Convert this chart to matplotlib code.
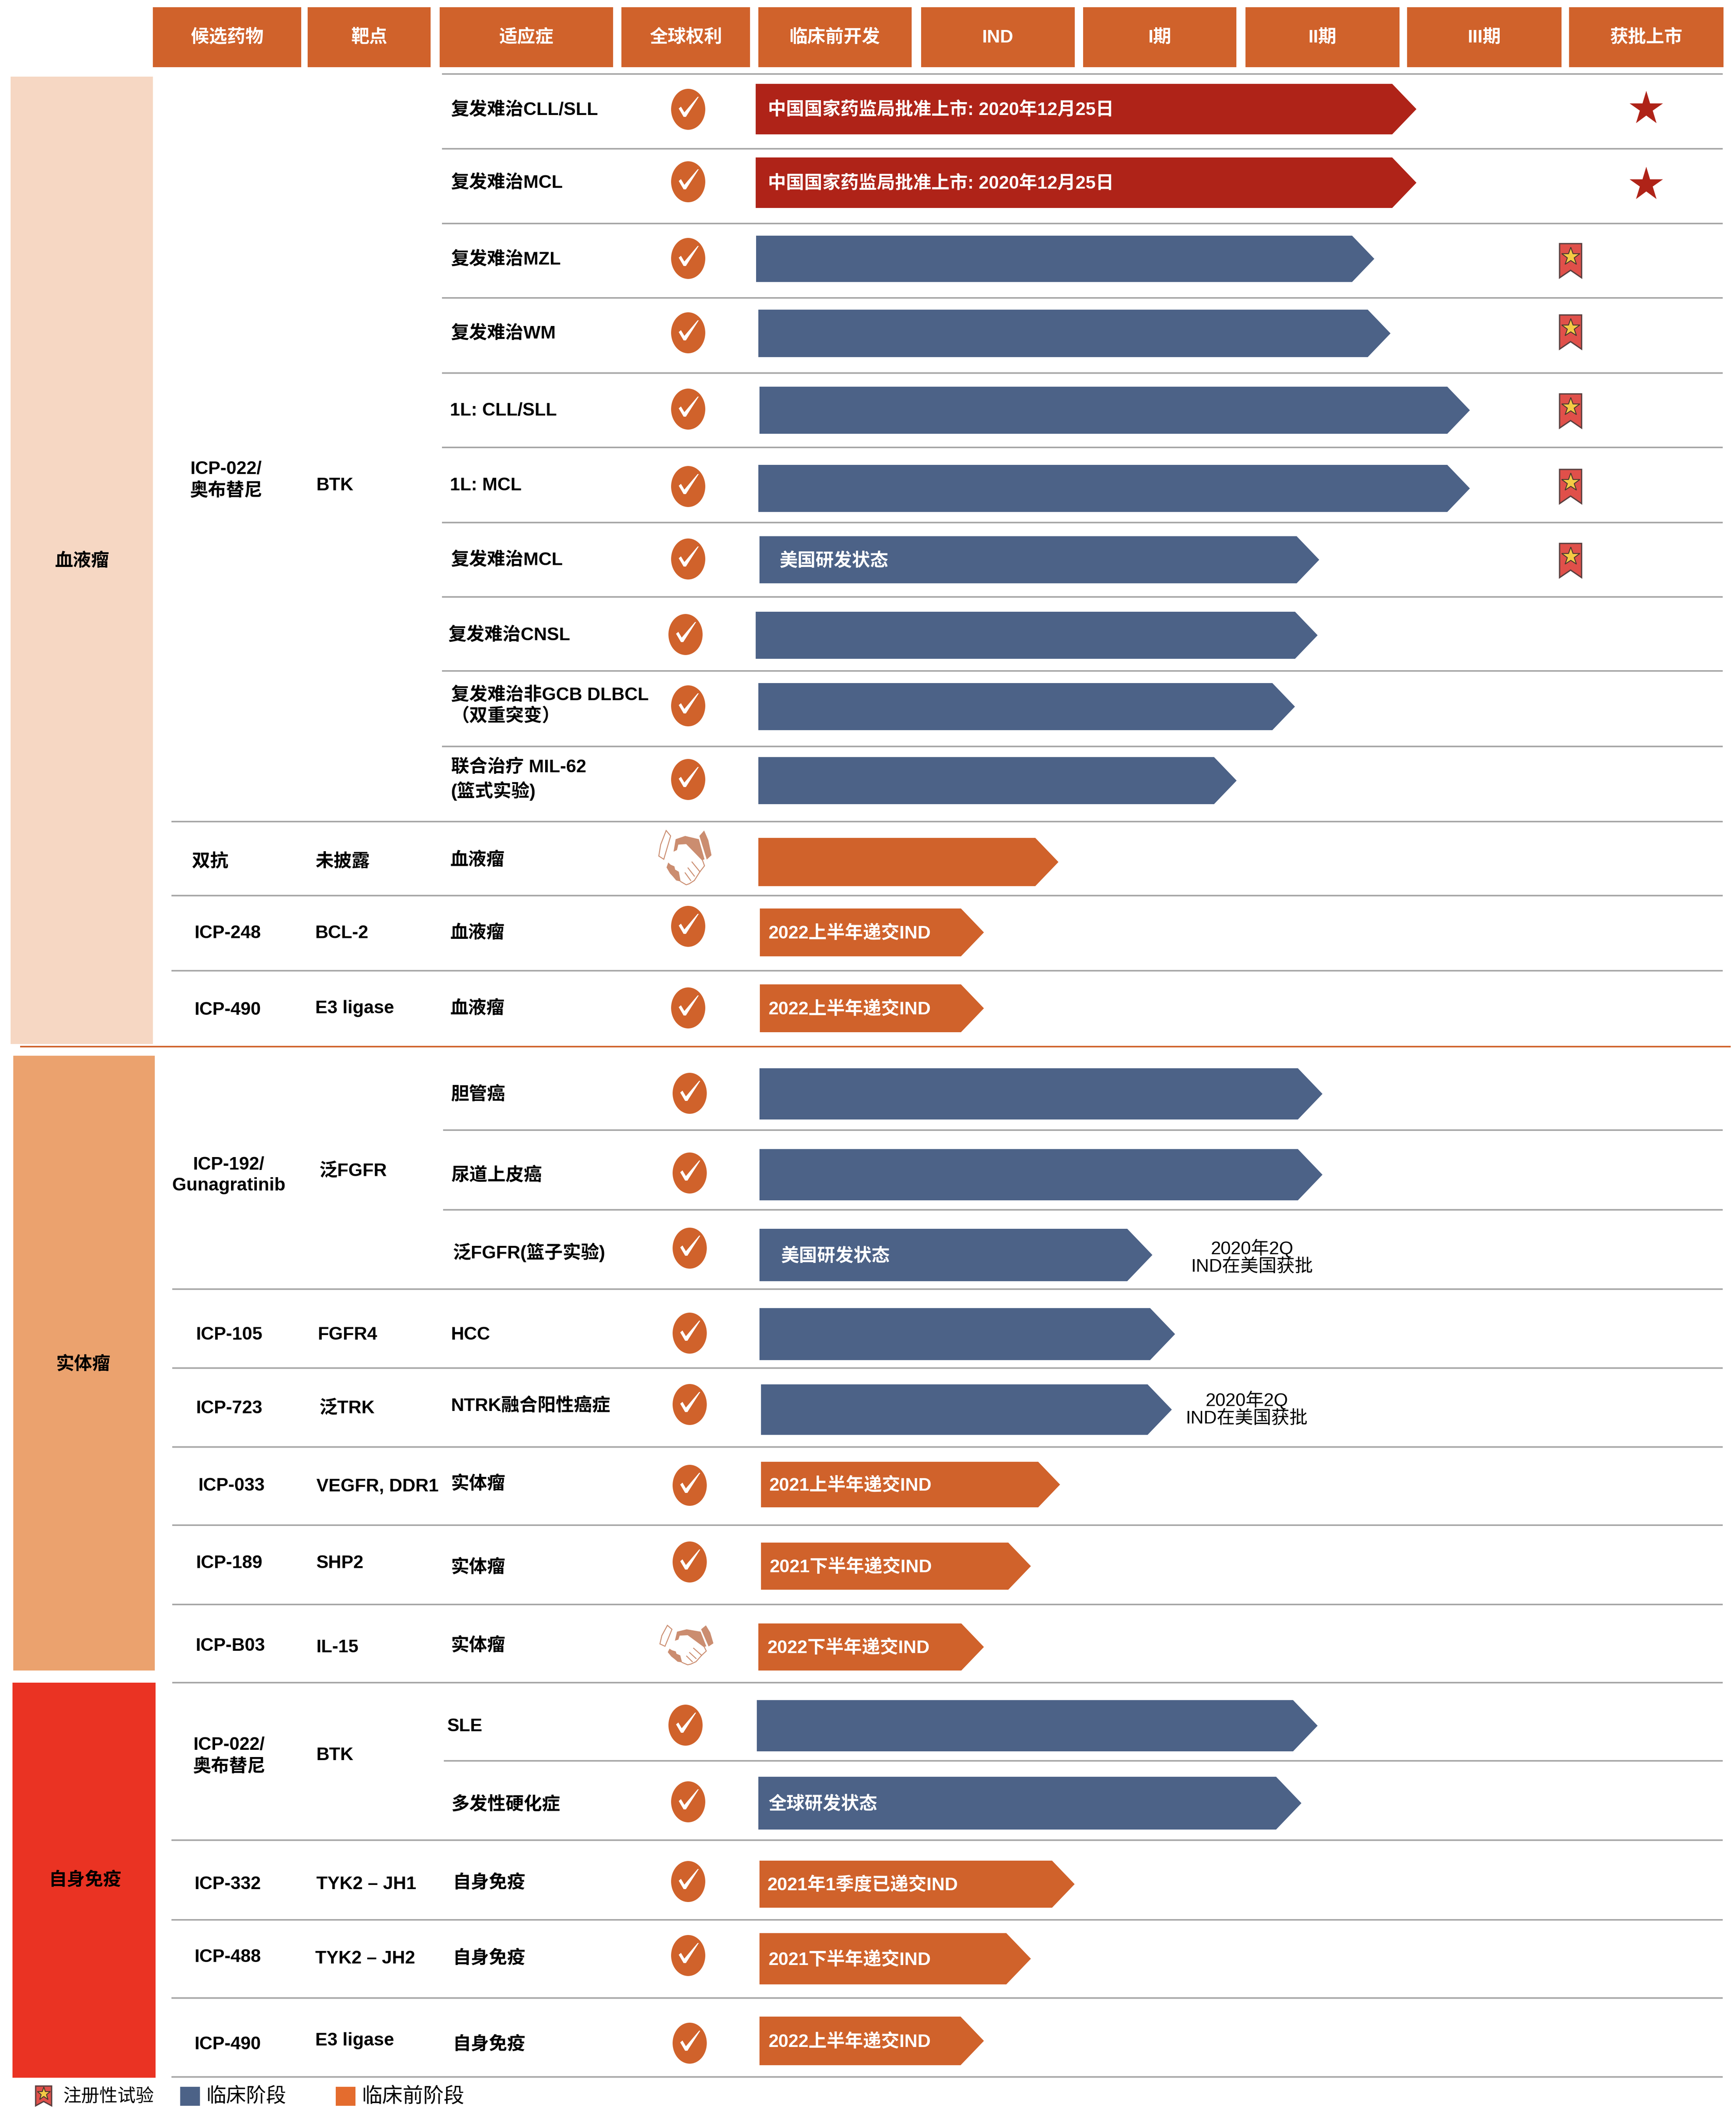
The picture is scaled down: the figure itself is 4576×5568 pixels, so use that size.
import matplotlib
matplotlib.use("Agg")
import matplotlib.pyplot as plt
from matplotlib.patches import Ellipse, Polygon, Rectangle

FONT = ['Liberation Sans', 'Noto Sans CJK SC']
plt.rcParams['font.family'] = FONT

# column headers
headers = ['候选药物', '靶点', '适应症', '全球权利', '临床前开发', 'IND', 'I期', 'II期', 'III期', '获批上市']

# therapeutic areas
areas = ['血液瘤', '实体瘤', '自身免疫']

# drug and target columns
drugs = ['ICP-022/\n奥布替尼', '双抗', 'ICP-248', 'ICP-490', 'ICP-192/\nGunagratinib', 'ICP-105', 'ICP-723',
         'ICP-033', 'ICP-189', 'ICP-B03', 'ICP-022/\n奥布替尼', 'ICP-332', 'ICP-488', 'ICP-490']
targets = ['BTK', '未披露', 'BCL-2', 'E3 ligase', '泛FGFR', 'FGFR4', '泛TRK',
           'VEGFR, DDR1', 'SHP2', 'IL-15', 'BTK', 'TYK2 – JH1', 'TYK2 – JH2', 'E3 ligase']

# one entry per pipeline row
indications = ['复发难治CLL/SLL', '复发难治MCL', '复发难治MZL', '复发难治WM', '1L: CLL/SLL', '1L: MCL', '复发难治MCL',
               '复发难治CNSL', '复发难治非GCB DLBCL\n（双重突变）', '联合治疗 MIL-62\n(篮式实验)', '血液瘤', '血液瘤', '血液瘤',
               '胆管癌', '尿道上皮癌', '泛FGFR(篮子实验)', 'HCC', 'NTRK融合阳性癌症', '实体瘤', '实体瘤', '实体瘤',
               'SLE', '多发性硬化症', '自身免疫', '自身免疫', '自身免疫']
# how far each row got, in stages (0 = start of preclinical, 1 = start of IND, ...)
progress = [4.06, 4.06, 3.80, 3.90, 4.39, 4.39, 3.46, 3.45, 3.31, 2.95, 1.85, 1.39, 1.39,
            3.48, 3.48, 2.43, 2.57, 2.55, 1.86, 1.68, 1.39,
            3.45, 3.35, 1.95, 1.68, 1.39]
phase = ['approved', 'approved', 'clinical', 'clinical', 'clinical', 'clinical', 'clinical', 'clinical', 'clinical',
         'clinical', 'preclinical', 'preclinical', 'preclinical',
         'clinical', 'clinical', 'clinical', 'clinical', 'clinical', 'preclinical', 'preclinical', 'preclinical',
         'clinical', 'clinical', 'preclinical', 'preclinical', 'preclinical']
bar_notes = ['中国国家药监局批准上市: 2020年12月25日', '中国国家药监局批准上市: 2020年12月25日', '', '', '', '', '美国研发状态',
             '', '', '', '', '2022上半年递交IND', '2022上半年递交IND',
             '', '', '美国研发状态', '', '', '2021上半年递交IND', '2021下半年递交IND', '2022下半年递交IND',
             '', '全球研发状态', '2021年1季度已递交IND', '2021下半年递交IND', '2022上半年递交IND']
side_notes = ['2020年2Q\nIND在美国获批', '2020年2Q\nIND在美国获批']
legend_labels = ['注册性试验', '临床阶段', '临床前阶段']

# rows with a partnership instead of full rights
partner_rows = [10, 20]
# rows with a marketed star / a registrational flag
star_rows = [0, 1]
flag_rows = [2, 3, 4, 5, 6]

# ---- layout, in pixels of the 4576x5568 picture ----
W, H = 4576, 5568
STAGE_X0, STAGE_W = 2000, 427
header_x = [(403, 794), (811, 1135), (1159, 1616), (1638, 1977), (1999, 2403), (2428, 2833), (2855, 3259),
            (3283, 3689), (3709, 4116), (4136, 4543)]
row_bar_x = [1992, 1992, 1993, 1999, 2002, 1999, 2002, 1992, 1999, 1999, 1999, 2003, 2003,
             2002, 2002, 2002, 2002, 2006, 2006, 2006, 1999, 1995, 1999, 2002, 2002, 2002]
row_bar_top = [221, 415, 621, 816, 1019, 1225, 1413, 1612, 1800, 1995, 2208, 2394, 2594,
               2815, 3028, 3238, 3447, 3648, 3852, 4065, 4278, 4480, 4682, 4903, 5094, 5314]
row_bar_bot = [354, 548, 743, 941, 1143, 1349, 1537, 1736, 1924, 2119, 2335, 2520, 2720,
               2950, 3163, 3376, 3584, 3781, 3972, 4189, 4402, 4615, 4821, 5027, 5229, 5442]
note_x = [2024, 2024, 0, 0, 0, 0, 2055, 0, 0, 0, 0, 2025, 2025, 0, 0, 2059, 0, 0, 2027, 2028, 2022, 0, 2025, 2022, 2025, 2025]
ind_x = [1189, 1189, 1189, 1189, 1186, 1186, 1189, 1182, 1189, 1189, 1186, 1186, 1186,
         1189, 1189, 1193, 1189, 1189, 1189, 1189, 1189, 1179, 1189, 1193, 1193, 1193]
ind_y = [290, 482, 684, 879, 1082, 1280, 1476, 1674, 1860, 2055, 2267, 2459, 2658,
         2885, 3098, 3300, 3517, 3705, 3911, 4131, 4337, 4550, 4756, 4962, 5161, 5388]
right_x = [1814, 1814, 1814, 1814, 1814, 1814, 1814, 1807, 1814, 1814, 1806, 1814, 1814,
           1818, 1818, 1818, 1818, 1818, 1818, 1818, 1810, 1807, 1814, 1814, 1814, 1818]
right_y = [288, 479, 681, 877, 1078, 1282, 1473, 1672, 1860, 2054, 2260, 2441, 2656,
           2881, 3091, 3289, 3513, 3701, 3914, 4116, 4335, 4546, 4748, 4958, 5153, 5384]
star_y = [286, 486]
flag_y = [687, 875, 1083, 1282, 1477]
drug_x = [596, 554, 600, 600, 603, 604, 604, 611, 604, 607, 604, 600, 600, 600]
drug_y = [1265, 2271, 2459, 2661, 3097, 3517, 3712, 3915, 4120, 4337, 4627, 4965, 5157, 5388]
target_x = [834, 831, 831, 831, 841, 838, 841, 834, 834, 834, 834, 834, 831, 831]
target_y = [1280, 2271, 2459, 2658, 3087, 3517, 3712, 3918, 4120, 4341, 4625, 4965, 5161, 5377]
line_y = [195, 392, 589, 785, 983, 1179, 1377, 1573, 1768, 1967, 2165, 2360, 2558,
          2978, 3188, 3397, 3605, 3813, 4019, 4228, 4434, 4640, 4849, 5059, 5265, 5473]
line_x = [1165, 1165, 1165, 1165, 1165, 1165, 1165, 1165, 1165, 1165, 452, 452, 452,
          1168, 1168, 454, 454, 454, 454, 454, 454, 1170, 452, 452, 452, 452]
area_rect = [(28, 202, 403, 2751), (35, 2782, 408, 4402), (33, 4434, 410, 5475)]
area_xy = [(216, 1479), (220, 3596), (224, 4955)]
area_col = ['#F6D7C3', '#EBA26E', '#EA3323']
side_xy = [(3300, 3313), (3286, 3713)]

ORANGE = '#D0622B'
BLUE = '#4C6287'
RED = '#AF2318'
GREY = '#A6A6A6'
BAR_COL = {'approved': RED, 'clinical': BLUE, 'preclinical': ORANGE}
FS = 34.5


def draw_arrow(ax, x0, tip, top, bot, color):
    h = bot - top
    sh = tip - 0.48 * h
    ax.add_patch(Polygon([(x0, top), (sh, top), (tip, (top + bot) / 2), (sh, bot), (x0, bot)],
                         closed=True, fc=color, ec='none', zorder=3))


def draw_check(ax, cx, cy):
    ax.add_patch(Ellipse((cx, cy), 90, 108, fc=ORANGE, ec='none', zorder=3))
    pts = [(-25, -2), (-19, -7), (-10, 8), (25, -33), (28, -33), (-6, 20), (-12, 20)]
    ax.add_patch(Polygon([(cx + a, cy + b) for a, b in pts], closed=True, fc='white', ec='none', zorder=4))


def draw_flag(ax, cx, cy, w=58, h=90):
    l, r, t, b = cx - w / 2, cx + w / 2, cy - h / 2, cy + h / 2
    ax.add_patch(Polygon([(l, t), (r, t), (r, b), (cx, b - h * 0.22), (l, b)], closed=True,
                         fc='#E0504A', ec='#5A4040', lw=2.5, zorder=3))
    ax.plot([cx], [cy - h * 0.12], marker='*', ms=w * 0.62, mfc='#F5CB45', mec='#4A3A30', mew=1.8, zorder=4)


def draw_handshake(ax, cx, cy, w, h):
    c = '#CB8D70'

    def tr(pts):
        return [(cx + (u - 0.5) * w, cy + (v - 0.5) * h) for u, v in pts]

    # two cuffs
    ax.add_patch(Polygon(tr([(0.14, 0.0), (0.225, 0.10), (0.095, 0.53), (0.0, 0.47), (0.036, 0.26)]),
                         closed=True, fc='white', ec=c, lw=1.8, zorder=3))
    ax.add_patch(Polygon(tr([(0.86, 0.0), (0.94, 0.18), (1.0, 0.455), (0.91, 0.535), (0.77, 0.10)]),
                         closed=True, fc=c, ec='none', zorder=3))
    # hand on top
    ax.add_patch(Polygon(tr([(0.32, 0.16), (0.5, 0.10), (0.76, 0.16), (0.867, 0.53), (0.82, 0.55), (0.52, 0.25),
                             (0.37, 0.26), (0.345, 0.36), (0.28, 0.39)]), closed=True, fc=c, ec='none', zorder=3))
    # fingers below
    ax.add_patch(Polygon(tr([(0.18, 0.59), (0.225, 0.63), (0.296, 0.66), (0.31, 0.72), (0.38, 0.76), (0.415, 0.94),
                             (0.33, 0.92), (0.27, 0.85), (0.213, 0.79), (0.147, 0.68)]), closed=True, fc=c, ec='none', zorder=4))
    outline = [(0.83, 0.55), (0.867, 0.65), (0.78, 0.76), (0.675, 0.92), (0.58, 0.98), (0.52, 1.0), (0.415, 0.94)]
    ax.plot(*zip(*tr(outline)), color=c, lw=1.8, zorder=4)
    for a, b in [((0.63, 0.58), (0.78, 0.76)), ((0.555, 0.69), (0.675, 0.84)), ((0.5, 0.78), (0.605, 0.92))]:
        ax.plot(*zip(*tr([a, b])), color=c, lw=1.8, zorder=4)


fig = plt.figure(figsize=(W / 100, H / 100), dpi=100)
ax = fig.add_axes([0, 0, 1, 1])
ax.set_xlim(0, W)
ax.set_ylim(H, 0)
ax.axis('off')

# header boxes
for (x0, x1), label in zip(header_x, headers):
    ax.add_patch(Rectangle((x0, 19), x1 - x0, 158, fc=ORANGE, ec='none', zorder=2))
    ax.text((x0 + x1) / 2, 99, label, color='white', fontsize=FS, fontweight='bold', ha='center', va='center', zorder=5)

# area bands on the left
for (x0, y0, x1, y1), col, label, (tx, ty) in zip(area_rect, area_col, areas, area_xy):
    ax.add_patch(Rectangle((x0, y0), x1 - x0, y1 - y0, fc=col, ec='none', zorder=1))
    ax.text(tx, ty, label, color='black', fontsize=FS, fontweight='bold', ha='center', va='center', zorder=5)

# separators
for x0, y in zip(line_x, line_y):
    ax.plot([x0, 4541], [y, y], color=GREY, lw=2.9, solid_capstyle='butt', zorder=2)
ax.plot([53, 4562], [2758, 2758], color=ORANGE, lw=2.9, solid_capstyle='butt', zorder=2)

# rows
for i, label in enumerate(indications):
    ax.text(ind_x[i], ind_y[i], label, fontsize=FS, fontweight='bold', ha='left', va='center', linespacing=1.3, zorder=5)
    tip = STAGE_X0 + progress[i] * STAGE_W
    draw_arrow(ax, row_bar_x[i], tip, row_bar_top[i], row_bar_bot[i], BAR_COL[phase[i]])
    if bar_notes[i]:
        ax.text(note_x[i], (row_bar_top[i] + row_bar_bot[i]) / 2 + 3, bar_notes[i], color='white', fontsize=FS,
                fontweight='bold', ha='left', va='center', zorder=5)
    if i in partner_rows:
        if i == 10:
            draw_handshake(ax, right_x[i], right_y[i], 139, 143)
        else:
            draw_handshake(ax, right_x[i], right_y[i], 141, 104)
    else:
        draw_check(ax, right_x[i], right_y[i])

for r, y in zip(star_rows, star_y):
    ax.plot([4339], [y], marker='*', ms=67, mfc=RED, mec='none', zorder=4)
for r, y in zip(flag_rows, flag_y):
    draw_flag(ax, 4140, y)

for label, x, y in zip(drugs, drug_x, drug_y):
    ax.text(x, y, label, fontsize=FS, fontweight='bold', ha='center', va='center', linespacing=1.3, zorder=5)
for label, x, y in zip(targets, target_x, target_y):
    ax.text(x, y, label, fontsize=FS, fontweight='bold', ha='left', va='center', zorder=5)

for label, (x, y) in zip(side_notes, side_xy):
    ax.text(x, y, label, fontsize=FS, ha='center', va='center', linespacing=1.0, zorder=5)

# legend along the bottom
draw_flag(ax, 115, 5523, 42, 52)
ax.text(167, 5525, legend_labels[0], fontsize=FS, ha='left', va='center', zorder=5)
ax.add_patch(Rectangle((475, 5499), 52, 50, fc=BLUE, ec='none', zorder=3))
ax.text(543, 5525, legend_labels[1], fontsize=38, ha='left', va='center', zorder=5)
ax.add_patch(Rectangle((885, 5499), 52, 50, fc='#E46C2E', ec='none', zorder=3))
ax.text(953, 5525, legend_labels[2], fontsize=39, ha='left', va='center', zorder=5)

fig.savefig('out.png', dpi=100, facecolor='white')
